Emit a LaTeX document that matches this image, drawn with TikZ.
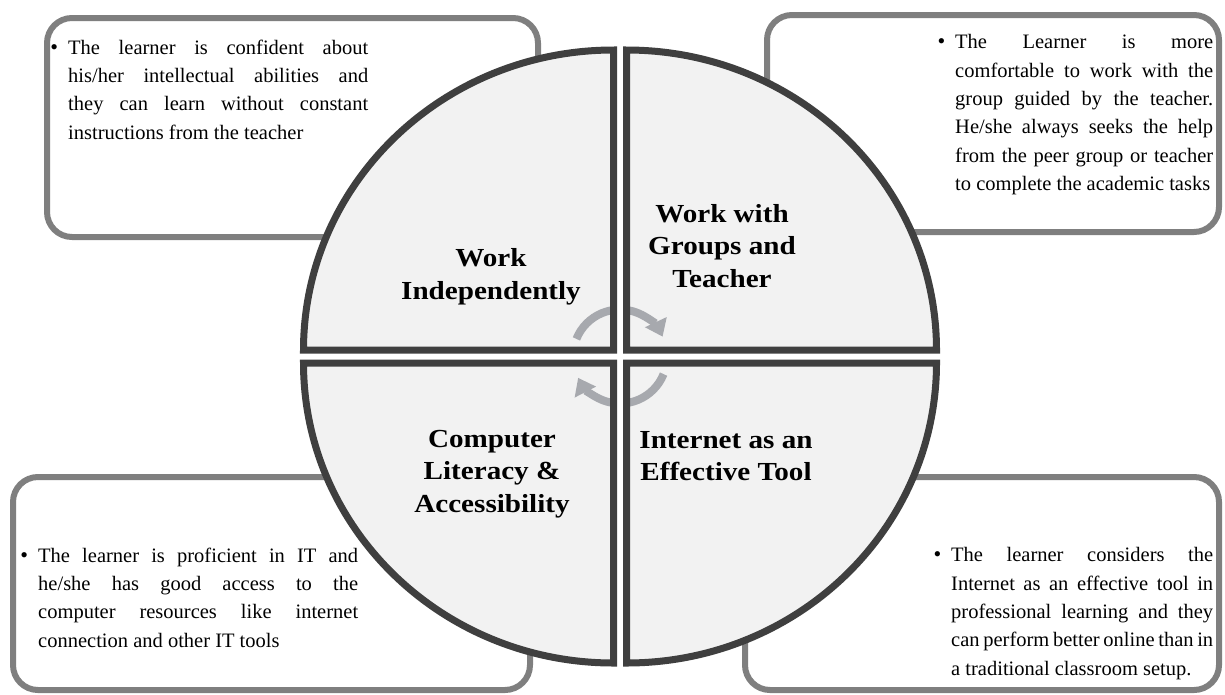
\documentclass[tikz,border=0pt]{standalone}
\usepackage{fontspec}
\setmainfont{Liberation Serif}
\newfontfamily\headfont[FakeStretch=1.12]{Liberation Serif}
\usetikzlibrary{arrows.meta}
\definecolor{boxgray}{HTML}{7F7F7F}
\definecolor{quaddark}{HTML}{3F3F3F}
\definecolor{quadfill}{HTML}{F2F2F2}
\definecolor{arrowgray}{HTML}{A7A9AE}
\newcommand\bul{\noindent\llap{{\fontsize{22}{22}\selectfont\textbullet}\hspace{10pt}}}
\tolerance=10000
\pretolerance=10000
\hyphenpenalty=10000
\begin{document}
\begin{tikzpicture}[x=1pt,y=-1pt,
  infobox/.style={draw=boxgray,line width=6pt,fill=white,rounded corners=25pt},
  quadshade/.style={fill=quadfill},
  quadline/.style={draw=quaddark,line width=7pt,line join=miter},
  bodytext/.style={anchor=north west,inner sep=0pt,text width=#1,align=justify,
    font=\fontsize{20.5}{28.3}\selectfont},
  headtext/.style={align=center,inner sep=0pt,font=\headfont\bfseries\fontsize{26}{32.5}\selectfont},
  cyclearrow/.style={draw=arrowgray,line width=8pt,-{Triangle[width=23pt,length=16pt]}}
]
\useasboundingbox (0,0) rectangle (1225,694);
% info boxes
\draw[infobox] (47,18) rectangle (538,237);
\draw[infobox] (767,15) rectangle (1219,232);
\draw[infobox] (13,477) rectangle (530,690);
\draw[infobox] (745,477) rectangle (1219,690);
% quadrant fills
\fill[quadshade] (613.5,350) -- ++(-310,0) arc[start angle=180,end angle=270,x radius=310,y radius=300] -- cycle;
\fill[quadshade] (626.5,350) -- ++(0,-300) arc[start angle=270,end angle=360,x radius=310,y radius=300] -- cycle;
\fill[quadshade] (613.5,363) -- ++(-310,0) arc[start angle=180,end angle=90,x radius=310,y radius=300] -- cycle;
\fill[quadshade] (626.5,363) -- ++(310,0) arc[start angle=0,end angle=90,x radius=310,y radius=300] -- cycle;
% cycle arrows
\coordinate (hub) at (620,356.5);
\draw[cyclearrow] (hub) ++(-158:47) arc[start angle=-158,end angle=-25,radius=47];
\draw[cyclearrow] (hub) ++(22:47) arc[start angle=22,end angle=153,radius=47];
% white gaps
\fill[white] (617,290) rectangle (623,420);
\fill[white] (560,353.5) rectangle (680,359.5);
% quadrant outlines
\draw[quadline] (613.5,350) -- ++(-310,0) arc[start angle=180,end angle=270,x radius=310,y radius=300] -- cycle;
\draw[quadline] (626.5,350) -- ++(0,-300) arc[start angle=270,end angle=360,x radius=310,y radius=300] -- cycle;
\draw[quadline] (613.5,363) -- ++(-310,0) arc[start angle=180,end angle=90,x radius=310,y radius=300] -- cycle;
\draw[quadline] (626.5,363) -- ++(310,0) arc[start angle=0,end angle=90,x radius=310,y radius=300] -- cycle;
% headings
\node[headtext] (indep) at (491,277) {Work\\Independently};
\node[headtext] (groups) at (722,246) {Work with\\Groups and\\Teacher};
\node[headtext] (literacy) at (492,474) {Computer\\Literacy \&\\Accessibility};
\node[headtext] (internet) at (726,456) {Internet as an\\Effective Tool};
% descriptions
\node[bodytext=300pt] (indeptext) at (68,39.5) {\bul The learner is confident about\linebreak his/her intellectual abilities and\linebreak they can learn without constant\linebreak instructions from the teacher};
\node[bodytext=258pt] (groupstext) at (955,34.5) {\bul The Learner is more\linebreak comfortable to work with the\linebreak group guided by the teacher.\linebreak He/she always seeks the help\linebreak from the peer group or teacher\linebreak to complete the academic tasks};
\node[bodytext=320pt] (literacytext) at (38,547.5) {\bul The learner is proficient in IT and\linebreak he/she has good access to the\linebreak computer resources like internet\linebreak connection and other IT tools};
\node[bodytext=262pt] (internettext) at (951,547.5) {\bul The learner considers the\linebreak Internet as an effective tool in\linebreak professional learning and they\linebreak can perform better online than in\linebreak a traditional classroom setup.};
\end{tikzpicture}
\end{document}
